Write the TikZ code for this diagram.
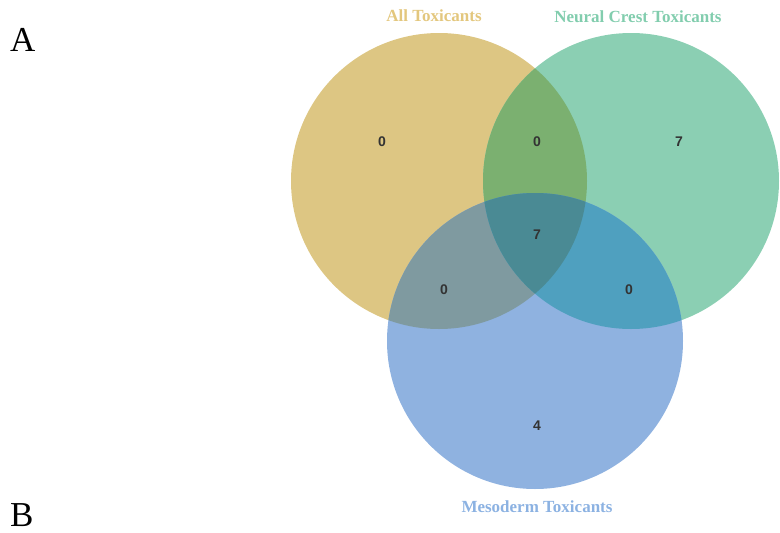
\documentclass[tikz,border=0pt]{standalone}
\usepackage{fontspec}
\setmainfont{Liberation Serif}
\setsansfont{Liberation Sans}
\definecolor{goldc}{HTML}{DDC683}
\definecolor{greenc}{HTML}{8BCFB3}
\definecolor{bluec}{HTML}{8FB2E0}
\definecolor{gg}{HTML}{7BB070}
\definecolor{gb}{HTML}{7F9AA0}
\definecolor{nb}{HTML}{4FA0BF}
\definecolor{allc}{HTML}{4A8A94}
\definecolor{goldt}{HTML}{E3C77E}
\definecolor{greent}{HTML}{82CDAE}
\definecolor{bluet}{HTML}{8CB2E2}
\definecolor{numc}{HTML}{333333}
\tikzset{
  setlabel/.style={font=\fontsize{17}{19}\selectfont\bfseries, inner sep=0pt},
  num/.style={font=\sffamily\fontsize{14}{16}\selectfont\bfseries, text=numc, inner sep=0pt},
  panel/.style={font=\fontsize{35}{38}\selectfont, inner sep=0pt, anchor=base west}
}
\begin{document}
\begin{tikzpicture}[x=1pt,y=-1pt]
\useasboundingbox (0,0) rectangle (780,533);
\coordinate (cg) at (439,181);
\coordinate (cn) at (631,181);
\coordinate (cm) at (535,341);
\def\R{148pt}
% base circles
\fill[goldc] (cg) circle (\R);
\fill[greenc] (cn) circle (\R);
\fill[bluec] (cm) circle (\R);
% pairwise overlaps
\begin{scope}
  \clip (cg) circle (\R);
  \fill[gg] (cn) circle (\R);
\end{scope}
\begin{scope}
  \clip (cg) circle (\R);
  \fill[gb] (cm) circle (\R);
\end{scope}
\begin{scope}
  \clip (cn) circle (\R);
  \fill[nb] (cm) circle (\R);
\end{scope}
\begin{scope}
  \clip (cg) circle (\R);
  \clip (cn) circle (\R);
  \fill[allc] (cm) circle (\R);
\end{scope}
% labels
\node[setlabel, text=goldt] (lg) at (434,16) {All Toxicants};
\node[setlabel, text=greent] (ln) at (638,17) {Neural Crest Toxicants};
\node[setlabel, text=bluet] (lm) at (537,507) {Mesoderm Toxicants};
% numbers
\node[num] (n1) at (382,142) {0};
\node[num] (n2) at (537,142) {0};
\node[num] (n3) at (679,142) {7};
\node[num] (n4) at (537,235) {7};
\node[num] (n5) at (444,290) {0};
\node[num] (n6) at (629,290) {0};
\node[num] (n7) at (537,426) {4};
% panel letters
\node[panel] (pa) at (10,51) {A};
\node[panel] (pb) at (10,526) {B};
\end{tikzpicture}
\end{document}
